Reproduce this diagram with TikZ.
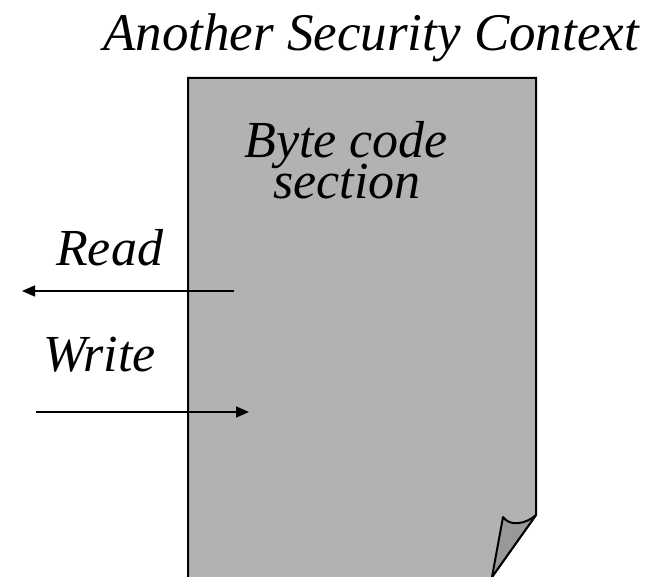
\documentclass[tikz,border=0pt]{standalone}
\usepackage{fontspec}
\newfontfamily\timesit{Liberation Serif}[UprightFont=*, ItalicFont=* Italic]
\usetikzlibrary{arrows.meta}
\definecolor{pagegray}{gray}{0.70}
\definecolor{flapgray}{gray}{0.60}
\tikzset{
  label/.style={inner sep=0pt, font=\timesit\itshape\fontsize{52}{42}\selectfont},
  flow/.style={line width=1.5pt, -{Triangle[length=13pt,width=11pt]}},
  outline/.style={line width=2pt, line join=miter}
}
\begin{document}
\begin{tikzpicture}[x=1pt, y=-1pt]
\useasboundingbox (0,0) rectangle (655,577);
\fill[white] (0,0) rectangle (655,577);

% title
\node[label, font=\timesit\itshape\fontsize{53}{42}\selectfont, anchor=base] (title) at (371,51) {Another Security Context};

% page with the turned-up corner
\draw[outline, fill=pagegray]
  (188,600) -- (188,78) -- (536,78) -- (536,515) -- (492,577) -- (488,600);
\draw[outline, fill=flapgray, line join=round]
  (536,515) .. controls (526,524) and (510,527) .. (503,517) -- (492,577) -- cycle;

% page text
\node[label, anchor=base] (bc1) at (346,158) {Byte code};
\node[label, anchor=base] (bc2) at (347,199) {section};

% read / write arrows
\coordinate (rstart) at (234,291);
\coordinate (rend) at (22,291);
\coordinate (wstart) at (36,412);
\coordinate (wend) at (249,412);
\node[label, anchor=base west] (read) at (56,265) {Read};
\node[label, anchor=base west] (write) at (43,371) {Write};
\draw[flow] (rstart) -- (rend);
\draw[flow] (wstart) -- (wend);
\end{tikzpicture}
\end{document}
